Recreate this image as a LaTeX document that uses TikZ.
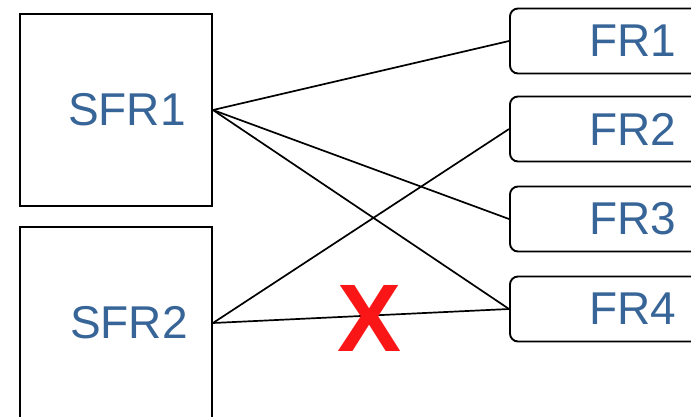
\documentclass[tikz,border=0pt]{standalone}
\usepackage{fontspec}
\setmainfont{Liberation Sans}
\definecolor{labelblue}{RGB}{56,101,152}
\definecolor{crossred}{RGB}{250,22,22}
\tikzset{
  sfrbox/.style={draw, line width=1.9pt, minimum width=192pt, minimum height=192pt,
    text=labelblue, font=\fontsize{46}{50}\selectfont},
  frbox/.style={draw, line width=1.9pt, rounded corners=8pt, minimum width=245pt,
    minimum height=65pt, text=labelblue, font=\fontsize{46}{50}\selectfont},
  link/.style={line width=1.7pt}
}
\begin{document}
\begin{tikzpicture}[x=1pt,y=-1pt]
    \useasboundingbox (0,0) rectangle (691,416);
    \clip (0,0) rectangle (691,416);
    % linke Seite
    \node[sfrbox] (sfr1) at (116,110) {\hspace*{22pt}SFR1};
    \node[sfrbox] (sfr2) at (116,323) {\hspace*{26pt}SFR2};
    % rechte Seite
    \node[frbox] (fr1) at (632.5,41) {FR1};
    \node[frbox] (fr2) at (632.5,129) {FR2};
    \node[frbox] (fr3) at (632.5,219) {FR3};
    \node[frbox] (fr4) at (632.5,309) {FR4};
    % Verbindungen
    \draw[link] (sfr1.east) -- (fr1.west);
    \draw[link] (sfr1.east) -- (fr3.west);
    \draw[link] (sfr1.east) -- (fr4.west);
    \draw[link] (sfr2.east) -- (fr2.west);
    \draw[link] (sfr2.east) -- (fr4.west);
    % Kreuz
    \node[text=crossred, font=\fontsize{96}{100}\selectfont\bfseries] (cross) at (370,318) {X};
\end{tikzpicture}
\end{document}
